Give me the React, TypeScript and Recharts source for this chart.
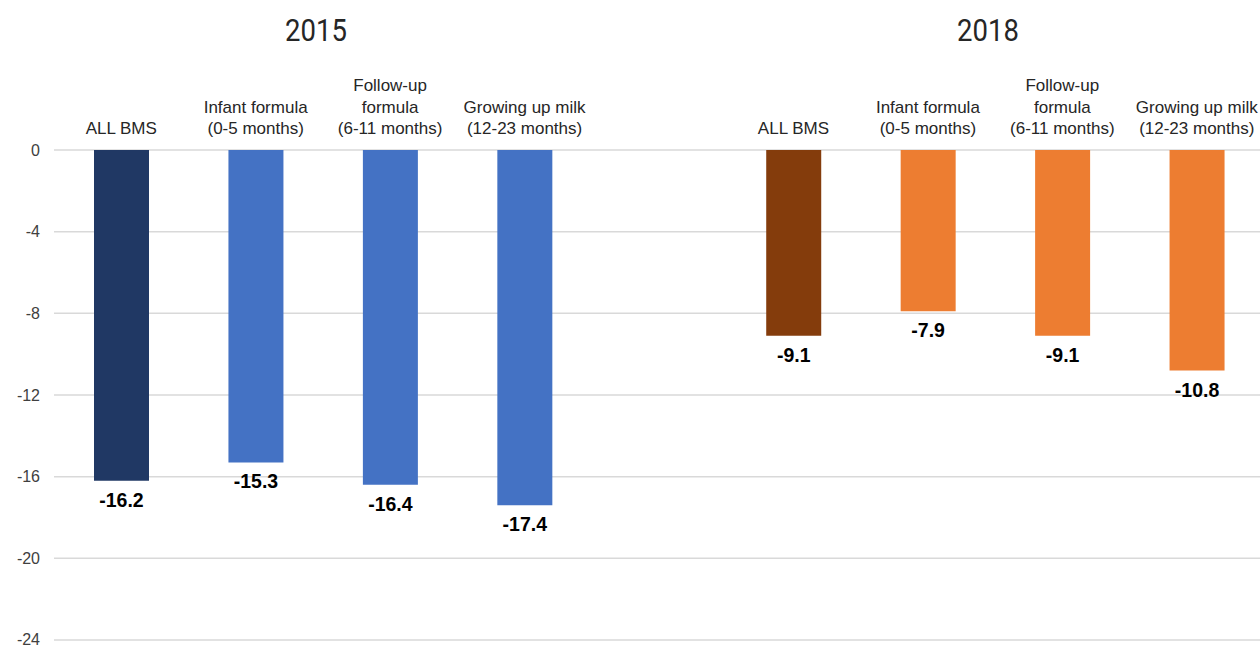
import React from 'react';
import { BarChart, Bar, XAxis, YAxis, CartesianGrid, Cell, LabelList } from 'recharts';

const years = ['2015', '2018'];
const productLabels = [
    ['ALL BMS'],
    ['Infant formula', '(0-5 months)'],
    ['Follow-up', 'formula', '(6-11 months)'],
    ['Growing up milk', '(12-23 months)'],
];
const values2015 = [-16.2, -15.3, -16.4, -17.4];
const values2018 = [-9.1, -7.9, -9.1, -10.8];
const yTicks = [0, -4, -8, -12, -16, -20, -24];

const COLORS: Record<string, { total: string; item: string }> = {
    '2015': { total: '#203864', item: '#4472C4' },
    '2018': { total: '#843C0C', item: '#ED7D31' },
};

type Row = { key: string; year: string; idx: number; value: number | null };

const chartData: Row[] = [
    ...values2015.map((v, i) => ({ key: `2015-${i}`, year: '2015', idx: i, value: v })),
    { key: 'gap', year: '', idx: -1, value: null },
    ...values2018.map((v, i) => ({ key: `2018-${i}`, year: '2018', idx: i, value: v })),
];

const FONT = '"Liberation Sans", Arial, sans-serif';

function CategoryTick(props: any) {
    const { x, y, payload } = props;
    const row = chartData.find((d) => d.key === payload.value);
    if (!row || row.idx < 0) return null;
    const lines = productLabels[row.idx];
    const lineH = 21.5;
    const last = y - 16;
    return (
        <text textAnchor="middle" fontSize={17} fill="#262626" fontFamily={FONT}>
            {lines.map((l, i) => (
                <tspan key={i} x={x} y={last - (lines.length - 1 - i) * lineH}>
                    {l}
                </tspan>
            ))}
        </text>
    );
}

function ValueLabel(props: any) {
    const { x, y, width, height, value } = props;
    if (value == null) return null;
    const bottom = Math.max(y, y + height);
    return (
        <text
            x={x + width / 2}
            y={bottom + 26}
            textAnchor="middle"
            fontSize={19.5}
            fontWeight="bold"
            fill="#000"
            fontFamily={FONT}
        >
            {value.toFixed(1)}
        </text>
    );
}

export default function App() {
    const sx = 0.86;
    return (
        <div style={{ position: 'absolute', left: 0, top: 0, width: 1260, height: 648, overflow: 'hidden', background: '#fff' }}>
            <BarChart width={1264} height={648} data={chartData} margin={{ top: 50, right: 0, bottom: 8, left: 0 }}>
                <CartesianGrid vertical={false} stroke="#d9d9d9" strokeWidth={1.5} />
                <XAxis
                    dataKey="key"
                    orientation="top"
                    height={100}
                    axisLine={false}
                    tickLine={false}
                    tickSize={0}
                    tickMargin={0}
                    interval={0}
                    tick={<CategoryTick />}
                />
                <YAxis
                    domain={[-24, 0]}
                    ticks={yTicks}
                    width={54}
                    axisLine={false}
                    tickLine={false}
                    tickSize={0}
                    tickMargin={14}
                    tick={{ fontSize: 16, fill: '#404040', fontFamily: FONT }}
                />
                <Bar dataKey="value" barSize={55} isAnimationActive={false}>
                    {chartData.map((d) => (
                        <Cell key={d.key} fill={d.year ? (d.idx === 0 ? COLORS[d.year].total : COLORS[d.year].item) : 'none'} />
                    ))}
                    <LabelList dataKey="value" content={<ValueLabel />} />
                </Bar>
            </BarChart>
            <svg width={1260} height={60} style={{ position: 'absolute', left: 0, top: 0 }}>
                {years.map((yr, i) => (
                    <text
                        key={yr}
                        transform={`scale(${sx},1)`}
                        x={(i === 0 ? 316 : 988) / sx}
                        y={41}
                        textAnchor="middle"
                        fontSize={32}
                        fill="#262626"
                        fontFamily="Roboto, sans-serif"
                    >
                        {yr}
                    </text>
                ))}
            </svg>
        </div>
    );
}
